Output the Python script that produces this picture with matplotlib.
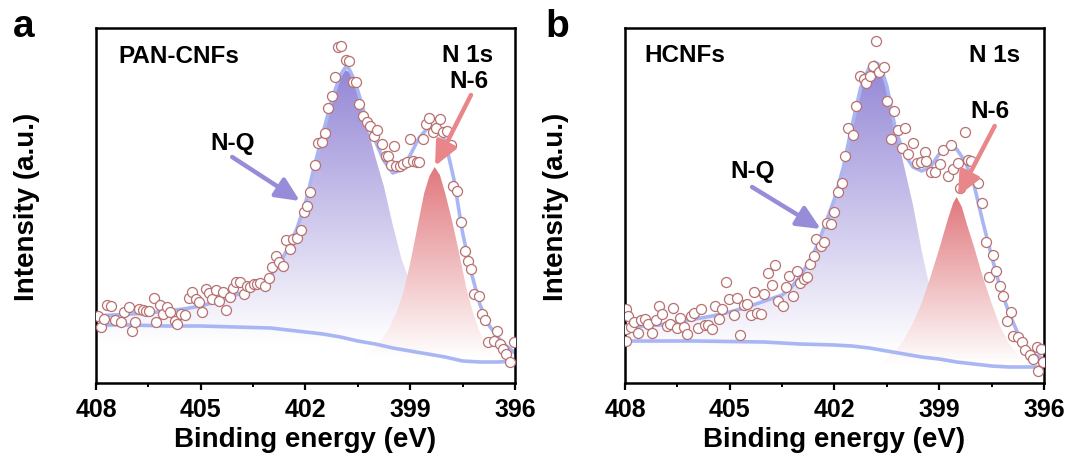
import numpy as np
import matplotlib
matplotlib.use("Agg")
import matplotlib.pyplot as plt

plt.rcParams["font.family"] = ["Liberation Sans", "DejaVu Sans"]
plt.rcParams["font.weight"] = "bold"
plt.rcParams["axes.labelweight"] = "bold"

# ---- data (binding energy in eV, intensity in arbitrary units) ----
# measured points, panel a (PAN-CNFs)
pts_a_E = [407.95, 407.86, 407.76, 407.69, 407.57, 407.47, 407.28, 407.19, 407.06, 406.97,
           406.87, 406.78, 406.66, 406.56, 406.47, 406.35, 406.28, 406.18, 406.09, 405.97,
           405.88, 405.75, 405.68, 405.56, 405.46, 405.34, 405.24, 405.15, 405.05, 404.96,
           404.86, 404.77, 404.67, 404.57, 404.48, 404.36, 404.27, 404.17, 404.08, 403.98,
           403.87, 403.77, 403.67, 403.58, 403.48, 403.39, 403.29, 403.17, 403.04, 402.95,
           402.85, 402.76, 402.64, 402.56, 402.45, 402.35, 402.24, 402.14, 402.05, 401.95,
           401.86, 401.73, 401.64, 401.54, 401.45, 401.35, 401.25, 401.16, 401.06, 400.97,
           400.84, 400.75, 400.63, 400.54, 400.46, 400.35, 400.25, 400.15, 400.04, 399.94,
           399.82, 399.69, 399.63, 399.56, 399.46, 399.41, 399.29, 399.20, 399.10, 399.02,
           398.93, 398.81, 398.74, 398.64, 398.55, 398.45, 398.35, 398.26, 398.14, 398.05,
           397.95, 397.84, 397.78, 397.65, 397.55, 397.43, 397.36, 397.26, 397.17, 397.04,
           396.95, 396.85, 396.76, 396.61, 396.52, 396.44, 396.34, 396.25, 396.13, 396.02]
pts_a_I = [67, 56, 64, 78, 77, 63, 61, 71, 76, 52,
           61, 74, 73, 72, 72, 85, 61, 78, 69, 76,
           71, 62, 59, 69, 68, 85, 91, 84, 81, 71,
           94, 90, 84, 93, 82, 91, 73, 86, 95, 101,
           101, 89, 97, 96, 99, 99, 100, 97, 105, 116,
           127, 121, 117, 143, 134, 144, 145, 153, 171, 177,
           191, 218, 240, 241, 250, 275, 287, 306, 336, 337,
           323, 322, 301, 301, 279, 267, 261, 257, 247, 253,
           239, 227, 227, 218, 237, 217, 217, 219, 221, 244,
           222, 221, 221, 244, 259, 265, 251, 255, 264, 251,
           252, 238, 197, 192, 161, 132, 122, 114, 89, 87,
           69, 63, 41, 42, 52, 39, 34, 29, 21, 41]

# measured points, panel b (HCNFs)
pts_b_E = [407.98, 407.91, 407.98, 407.98, 407.82, 407.74, 407.63, 407.53, 407.44, 407.34,
           407.22, 407.12, 407.02, 406.93, 406.80, 406.71, 406.61, 406.52, 406.42, 406.31,
           406.21, 406.11, 406.02, 405.90, 405.81, 405.71, 405.62, 405.52, 405.42, 405.30,
           405.21, 405.11, 405.02, 404.89, 404.80, 404.70, 404.60, 404.51, 404.40, 404.30,
           404.22, 404.11, 404.01, 403.90, 403.80, 403.70, 403.61, 403.48, 403.39, 403.29,
           403.20, 403.07, 402.98, 402.88, 402.79, 402.69, 402.59, 402.53, 402.38, 402.29,
           402.21, 402.10, 402.00, 401.89, 401.79, 401.69, 401.60, 401.47, 401.38, 401.28,
           401.16, 401.09, 400.98, 400.90, 400.80, 400.71, 400.58, 400.49, 400.37, 400.28,
           400.18, 400.07, 399.99, 399.89, 399.75, 399.63, 399.51, 399.42, 399.37, 399.24,
           399.13, 398.99, 398.89, 398.76, 398.67, 398.60, 398.46, 398.41, 398.27, 398.17,
           398.08, 397.89, 397.77, 397.67, 397.58, 397.45, 397.36, 397.26, 397.17, 397.07,
           396.95, 396.88, 396.74, 396.62, 396.55, 396.40, 396.31, 396.21, 396.16, 396.09, 396.02]
pts_b_I = [74, 67, 54, 42, 56, 61, 50, 63, 64, 59,
           50, 63, 77, 69, 57, 59, 75, 55, 65, 56,
           49, 67, 70, 55, 74, 58, 58, 54, 77, 64,
           74, 101, 84, 68, 85, 48, 78, 79, 68, 91,
           70, 69, 89, 110, 98, 118, 82, 77, 96, 107,
           87, 112, 100, 104, 106, 119, 127, 144, 137, 141,
           160, 159, 171, 191, 200, 227, 255, 248, 277, 307,
           304, 300, 307, 317, 342, 311, 316, 282, 244, 272,
           253, 235, 255, 229, 240, 220, 221, 231, 222, 211,
           211, 219, 233, 207, 238, 214, 220, 195, 251, 223,
           222, 200, 180, 141, 106, 128, 112, 97, 87, 62,
           71, 47, 46, 41, 33, 28, 24, 36, 12, 34, 21]

# fitted envelope (both panels share the energy grid)
env_E = [408, 407.5, 407, 406.5, 406, 405.5, 405, 404.5, 404, 403.5,
         403.25, 403, 402.75, 402.5, 402.25, 402, 401.75, 401.5, 401.25, 401,
         400.85, 400.75, 400.6, 400.5, 400.25, 400, 399.75, 399.5, 399.25, 399, 398.75, 398.5,
         398.25, 398, 397.75, 397.5, 397.25, 397, 396.75, 396.5, 396.25, 396]
env_a_I = [67, 68, 69, 70, 72, 74, 77, 82, 88, 95,
           100, 107, 119, 135, 154, 180, 216, 250, 283, 308,
           316, 314, 303, 292, 262, 242, 222, 210, 213, 228, 245, 255,
           257, 242, 204, 150, 110, 78, 58, 46, 37, 30]
env_b_I = [56, 57, 58, 61, 64, 67, 71, 76, 82, 88,
           95, 106, 120, 137, 160, 184, 215, 257, 295, 316,
           321, 319, 308, 297, 253, 229, 216, 212, 216, 229, 234, 234,
           221, 198, 161, 127, 95, 70, 50, 36, 28, 24]

# background
bg_E = [408, 407, 406, 405, 404, 403, 402.5, 402, 401.5, 401,
        400.5, 400, 399.5, 399, 398.5, 398, 397.5, 397, 396.5, 396]
bg_a_I = [58, 58, 57, 57, 56, 55, 53, 51, 49, 46,
          42, 39, 35, 32, 29, 26, 22, 21, 21, 22]
bg_b_I = [42, 42, 42, 41.5, 41, 39, 38.5, 38, 37, 35,
          32, 29, 26, 24, 21, 19, 17, 16, 16, 16]

# N-Q component
nq_E = [408, 407.5, 407, 406.5, 406, 405.5, 405, 404.5, 404, 403.5,
        403.25, 403, 402.75, 402.5, 402.25, 402, 401.75, 401.5, 401.25, 401,
        400.85, 400.75, 400.6, 400.5, 400.25, 400, 399.75, 399.5, 399.25, 399, 398.75, 398.5,
        398.25, 398, 397.5, 397]
nq_a_I = [67, 68, 69, 70, 72, 74, 77, 82, 88, 95,
          100, 107, 119, 135, 154, 180, 216, 250, 283, 306,
          313, 311, 302, 294, 258, 226, 196, 158, 124, 100, 76, 58,
          46, 38, 28, 22]
nq_b_I = [56, 57, 58, 61, 64, 67, 71, 76, 82, 88,
          95, 106, 120, 137, 160, 184, 215, 257, 294, 314,
          319, 317, 306, 296, 254, 216, 178, 132, 92, 62, 44, 34,
          27, 23, 18, 16]

# N-6 component
n6_a_E = [400.4, 400.2, 400.0, 399.8, 399.6, 399.4, 399.2, 399.0, 398.8, 398.6, 398.45, 398.3,
          398.15, 398.0, 397.8, 397.6, 397.4, 397.2, 397.0, 396.8, 396.6, 396.4]
n6_a_I = [26, 30, 36, 44, 55, 70, 90, 120, 155, 190, 207, 216,
          208, 190, 162, 130, 96, 70, 50, 36, 28, 24]
n6_b_E = [400.6, 400.4, 400.2, 400.0, 399.75, 399.5, 399.25, 399.0, 398.75, 398.6, 398.5, 398.35,
          398.2, 398.0, 397.75, 397.5, 397.25, 397.0, 396.75, 396.5, 396.3]
n6_b_I = [22, 28, 34, 44, 60, 80, 106, 134, 164, 180, 186, 176,
          158, 136, 106, 80, 56, 40, 28, 20, 17]

PURPLE = (0.58, 0.53, 0.84)
RED = (0.88, 0.47, 0.49)
LINE = "#a9b6f4"
EDGE = "#b87070"
YMAX = 355


def grad_fill(ax, xs, ys, rgb, y0, y1, z):
    # vertical gradient (white at y0 -> rgb at y1), clipped to the area under the curve
    poly = ax.fill_between(xs, 0, ys, facecolor="none", edgecolor="none")
    path = poly.get_paths()[0]
    n = 300
    t = np.clip((np.linspace(0, YMAX, n) - y0) / (y1 - y0), 0, 1)
    img = np.ones((n, 1, 3))
    for k in range(3):
        img[:, 0, k] = 1 - (1 - rgb[k]) * t
    im = ax.imshow(img, extent=[396, 408, 0, YMAX], origin="lower", aspect="auto",
                   zorder=z, interpolation="bilinear")
    im.set_clip_path(path, transform=ax.transData)


def panel(ax, pE, pI, envI, bgI, nqI, n6E, n6I, nq_y0, n6_y0, name, texts):
    grad_fill(ax, nq_E, nqI, PURPLE, nq_y0, max(nqI), 1)
    grad_fill(ax, n6E, n6I, RED, n6_y0, max(n6I), 1.1)
    ax.plot(env_E, envI, color=LINE, lw=2.6, zorder=2)
    ax.plot(bg_E, bgI, color=LINE, lw=2.6, zorder=2)
    ax.plot(pE, pI, "o", ms=7.2, mfc="white", mec=EDGE, mew=0.9, ls="none", zorder=3)

    ax.text(name[0], name[1], name[2], fontsize=17.5, ha="left", va="baseline")
    for s, x, y in texts["labels"]:
        ax.text(x, y, s, fontsize=17.5, ha="center", va="baseline", zorder=5)
    for (x0, y0, x1, y1, c) in texts["arrows"]:
        ax.annotate("", xy=(x1, y1), xytext=(x0, y0),
                    arrowprops=dict(arrowstyle="-|>,head_length=0.65,head_width=0.3",
                                    color=c, lw=3.2, shrinkA=0, shrinkB=0,
                                    mutation_scale=22), zorder=4)

    ax.set_xlim(408, 396)
    ax.set_ylim(0, YMAX)
    ax.set_xticks([408, 405, 402, 399, 396])
    ax.set_xticks([406.5, 403.5, 400.5, 397.5], minor=True)
    ax.set_yticks([])
    ax.tick_params(axis="x", which="major", direction="out", length=5, width=1.6,
                   labelsize=18, pad=5)
    ax.tick_params(axis="x", which="minor", direction="out", length=3, width=1.4)
    for sp in ax.spines.values():
        sp.set_linewidth(1.8)
    ax.set_xlabel("Binding energy (eV)", fontsize=20, fontweight="bold", va="center")
    ax.xaxis.set_label_coords(0.5, -0.158)
    ax.set_ylabel("Intensity (a.u.)", fontsize=20, fontweight="bold", va="center")
    ax.yaxis.set_label_coords(-0.164, 0.5)


fig = plt.figure(figsize=(10.74, 4.64), dpi=100)
ax_a = fig.add_axes([0.0894, 0.1724, 0.3901, 0.7651])
ax_b = fig.add_axes([0.5819, 0.1724, 0.3901, 0.7651])

panel(ax_a, pts_a_E, pts_a_I, env_a_I, bg_a_I, nq_a_I, n6_a_E, n6_a_I, 40, 25,
      (407.37, 321, "PAN-CNFs"),
      {"labels": [("N 1s", 397.35, 322), ("N-6", 397.32, 296), ("N-Q", 404.08, 234)],
       "arrows": [(404.10, 226, 402.16, 182, "#968cd8"),
                  (397.26, 288, 398.29, 217, "#e8868a")]})
panel(ax_b, pts_b_E, pts_b_I, env_b_I, bg_b_I, nq_b_I, n6_b_E, n6_b_I, 30, 18,
      (407.43, 322, "HCNFs"),
      {"labels": [("N 1s", 397.41, 322), ("N-6", 397.55, 266), ("N-Q", 404.34, 206)],
       "arrows": [(404.36, 196, 402.39, 154, "#968cd8"),
                  (397.41, 257, 398.46, 187, "#e8868a")]})

fig.text(13 / 1074, 1 - 37 / 464, "a", fontsize=28, ha="left", va="baseline")
fig.text(545 / 1074, 1 - 37 / 464, "b", fontsize=28, ha="left", va="baseline")

fig.savefig("out.png", dpi=100)
